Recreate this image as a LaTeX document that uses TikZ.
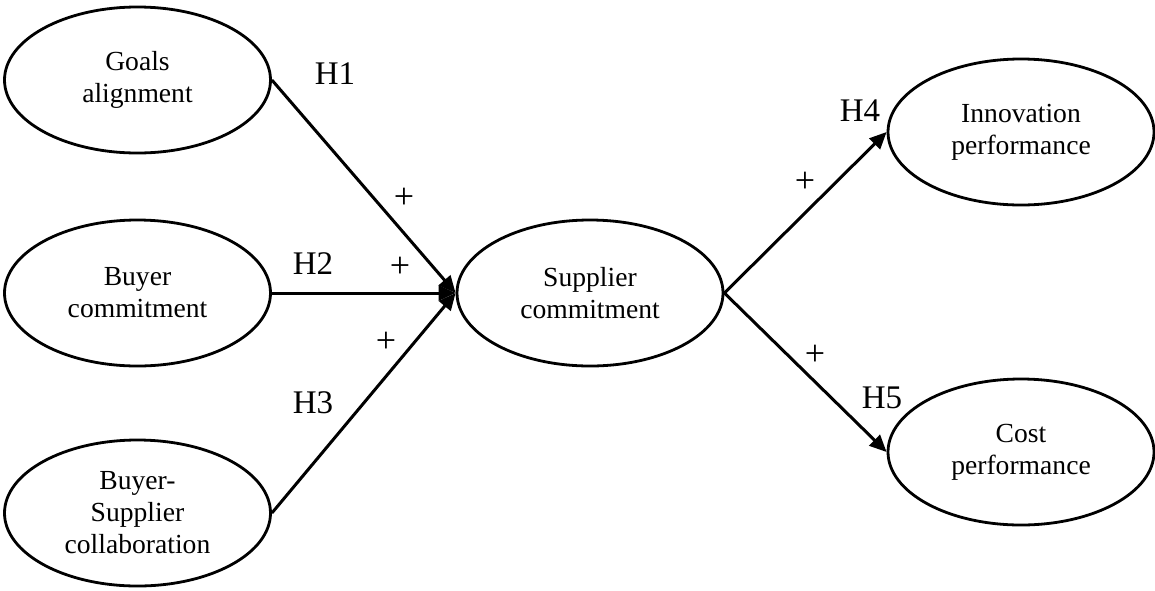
\documentclass[tikz,border=0pt]{standalone}
\usepackage{fontspec}
\setmainfont{Liberation Serif}
\usetikzlibrary{shapes.geometric,arrows.meta}
\begin{document}
\begin{tikzpicture}[x=0.5pt,y=-0.5pt,
  construct/.style={ellipse,draw,line width=1.4pt,minimum width=133pt,minimum height=73pt,inner sep=0pt,align=center,font=\fontsize{13.8}{16}\selectfont},
  hyp/.style={font=\fontsize{16.5}{19}\selectfont,inner sep=0pt},
  sign/.style={font=\fontsize{18}{20}\selectfont,inner sep=0pt},
  link/.style={-{Triangle[length=8.5pt,width=7.5pt]},line width=1.5pt}]
  \useasboundingbox (0,0) rectangle (1155,590);
  \node[construct] (goals) at (137.5,80) {Goals\\ alignment};
  \node[construct] (buyer) at (137.5,293) {Buyer\\ commitment};
  \node[construct] (collab) at (137.5,513) {Buyer-\\ Supplier\\ collaboration};
  \node[construct] (supp) at (590,293) {Supplier\\ commitment};
  \node[construct] (innov) at (1021,132) {Innovation\\ performance};
  \node[construct] (cost) at (1021,452) {Cost\\ performance};
  \draw[link] (goals.east) -- (supp.west); \draw[link] (buyer.east) -- (supp.west);
  \draw[link] (collab.east) -- (supp.west);
  \draw[link] (supp.east) -- (innov.west); \draw[link] (supp.east) -- (cost.west);
  \node[hyp] (h1) at (335,74) {H1};
  \node[hyp] (h2) at (313,264) {H2};
  \node[hyp] (h3) at (313,403) {H3};
  \node[hyp] (h4) at (860,111) {H4};
  \node[hyp] (h5) at (882,398) {H5};
  \node[sign] (p1) at (404,198) {+}; \node[sign] (p2) at (400,267) {+};
  \node[sign] (p3) at (386,342) {+};
  \node[sign] (p4) at (805,182) {+}; \node[sign] (p5) at (815,355) {+};
\end{tikzpicture}
\end{document}
